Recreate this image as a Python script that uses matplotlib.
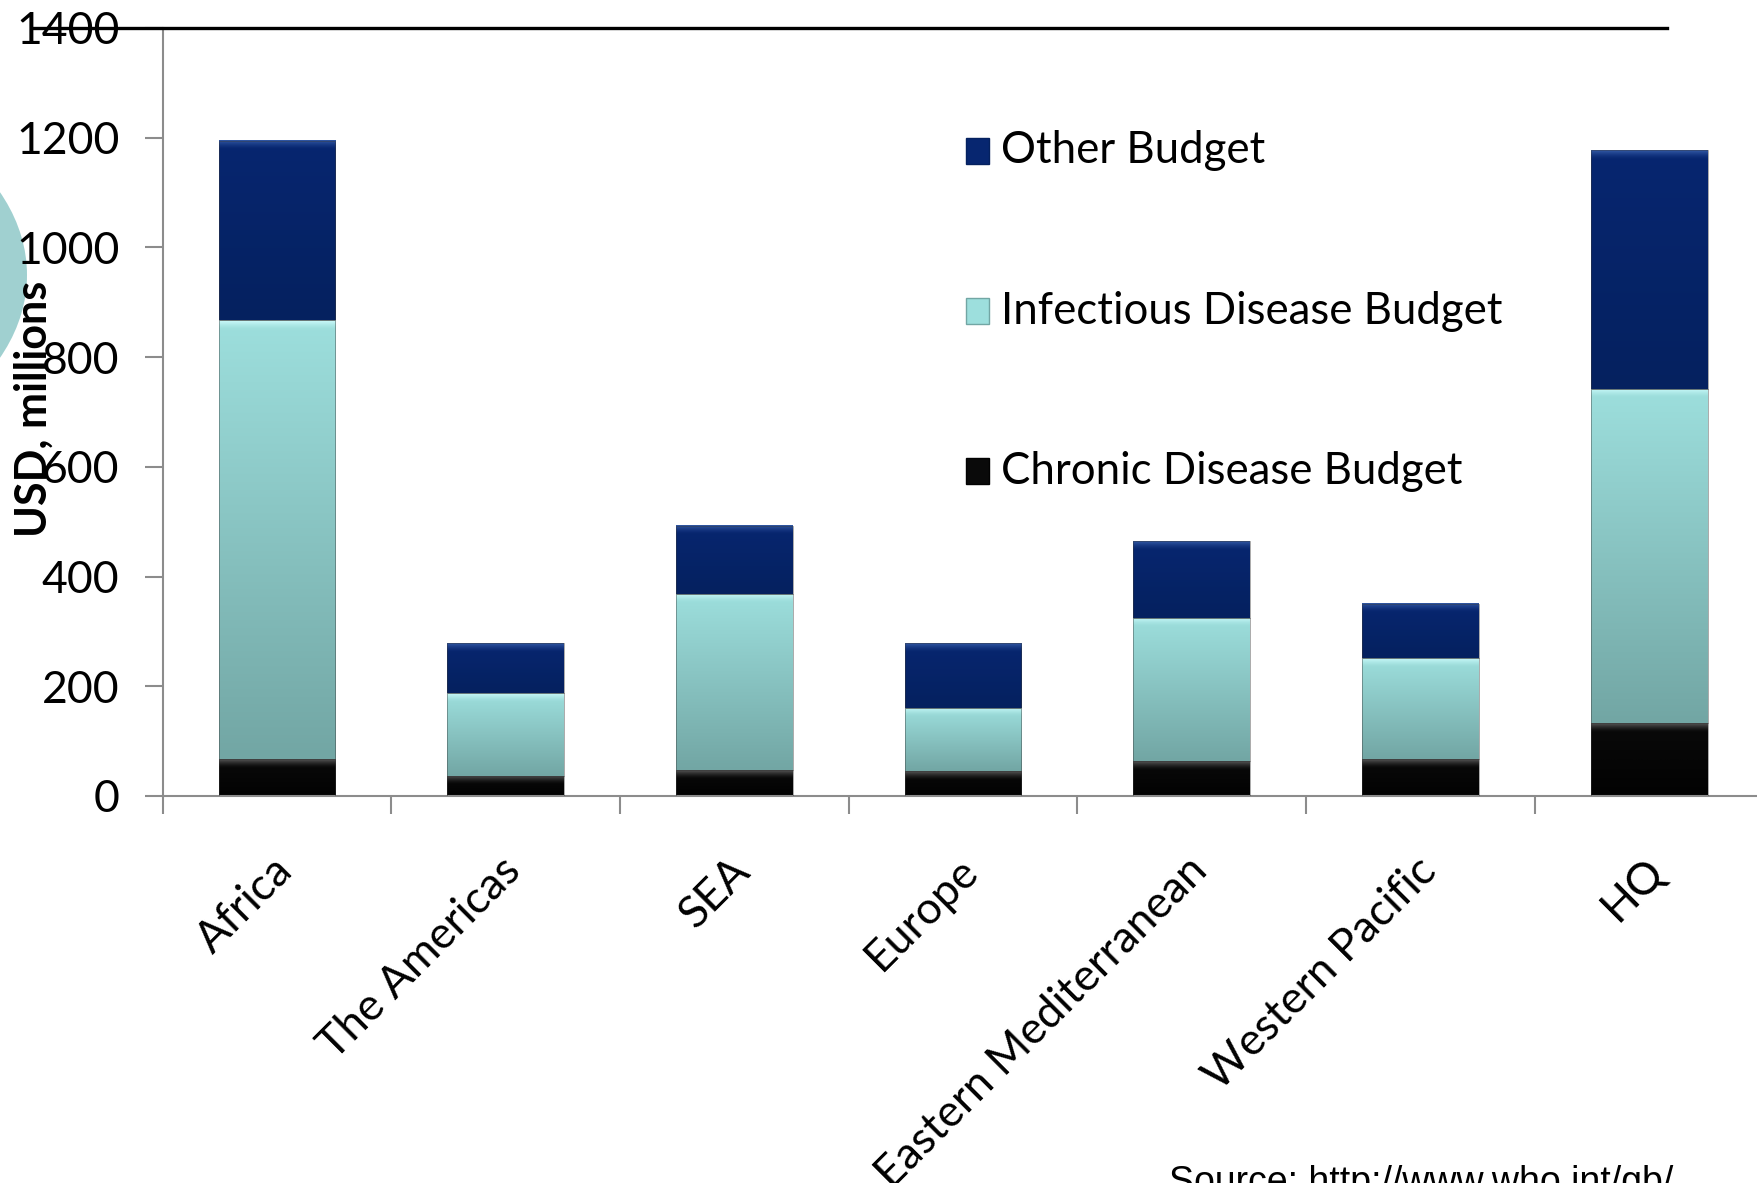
import numpy as np
import matplotlib
matplotlib.use("Agg")
import matplotlib.pyplot as plt
from matplotlib.patches import Rectangle, Circle
from matplotlib.lines import Line2D
from matplotlib.colors import to_rgb

# WHO budget by region, USD millions (stacked: chronic, infectious, other)
regions = ["Africa", "The Americas", "SEA", "Europe",
           "Eastern Mediterranean", "Western Pacific", "HQ"]
chronic = [67, 37, 47, 45, 63, 67, 133]
infectious = [800, 151, 321, 116, 262, 184, 609]
other = [327, 90, 125, 117, 139, 99, 435]
series_names = ["Chronic Disease Budget", "Infectious Disease Budget", "Other Budget"]
yticks = [0, 200, 400, 600, 800, 1000, 1200, 1400]

# (bottom colour, top colour, bevel highlight)
styles = [
    ("#020202", "#0a0a0a", "#6a6a6a"),
    ("#72a6a4", "#9ddfdd", "#d4ffff"),
    ("#05215f", "#072670", "#3c64b0"),
]

plt.rcParams["font.family"] = ["Lato", "DejaVu Sans"]

W, H = 1758, 1183
fig = plt.figure(figsize=(W / 100, H / 100), dpi=100)
ax = fig.add_axes([162.6 / W, (H - 796) / H, (1763.6 - 162.6) / W, (796 - 28) / H])

x = np.arange(len(regions))
width = 0.51
BAND = 16  # bevel height in data units


def shaded_segment(ax, x0, y0, h, style):
    bottom, top, hi = (np.array(to_rgb(c)) for c in style)
    rows = 240
    ys = np.linspace(0, 1, rows)
    img = bottom[None, :] * (1 - ys[:, None]) + top[None, :] * ys[:, None]
    # light bevel along the upper edge
    dist = (1 - ys) * h
    w = np.clip(1 - dist / BAND, 0, 1) ** 1.5
    img = img * (1 - w[:, None] * 0.8) + hi[None, :] * w[:, None] * 0.8
    ax.imshow(img[:, None, :], extent=(x0, x0 + width, y0, y0 + h), origin="lower",
              aspect="auto", interpolation="bilinear", zorder=2)
    ax.add_patch(Rectangle((x0, y0), width, h, fill=False, ec="#3a3a3a",
                           lw=0.6, alpha=0.5, zorder=3))


base = np.zeros(len(regions))
for vals, style in zip([chronic, infectious, other], styles):
    bars = ax.bar(x, vals, width, bottom=base, color="none", zorder=1)
    for b in bars:
        shaded_segment(ax, b.get_x(), b.get_y(), b.get_height(), style)
    base = base + np.array(vals)

ax.set_xlim(-0.5, 6.5)
ax.set_ylim(0, 1400)

for s in ["top", "right"]:
    ax.spines[s].set_visible(False)
for s in ["left", "bottom"]:
    ax.spines[s].set_color("#8c8c8c")
    ax.spines[s].set_linewidth(1.5)

ax.set_yticks(yticks)
ax.tick_params(axis="y", length=13, width=1.5, color="#8c8c8c", labelsize=32, pad=18)
ax.set_xticks(np.arange(-0.5, 6.6, 1.0))
ax.set_xticklabels([])
ax.tick_params(axis="x", length=13, width=1.5, color="#8c8c8c")

for i, name in enumerate(regions):
    ax.text(i - 0.025, -0.07, name, transform=ax.get_xaxis_transform(),
            rotation=45, rotation_mode="anchor", ha="right", va="top",
            fontsize=32)

# legend, top entry first
leg_x, leg_y, step = 0.5017, 0.84, 0.2085
for k, (name, style) in enumerate(zip(series_names[::-1], styles[::-1])):
    yy = leg_y - k * step
    ax.add_patch(Rectangle((leg_x, yy - 0.017), 0.0145, 0.034, transform=ax.transAxes,
                           fc=style[1], ec=style[0], lw=1.0, clip_on=False, zorder=5))
    ax.text(leg_x + 0.022, yy, name, transform=ax.transAxes, fontsize=31.5,
            va="center", ha="left")

fig.text(34 / W, 1 - 409 / H, "USD, millions", rotation=90, fontsize=31,
         fontweight="bold", ha="center", va="center")

# slide decorations: teal circle at the left edge and the rule along the top
fig.add_artist(Circle((-267 / W, 1 - 275 / H), 294 / W, transform=fig.transFigure,
                      fc="#a0d0d0", ec="none", zorder=-1))
fig.add_artist(Line2D([32 / W, 1667 / W], [1 - 28 / H, 1 - 28 / H],
                      transform=fig.transFigure, color="black", lw=2.4))

fig.text(1169 / W, -10 / H, "Source: http://www.who.int/gb/", fontsize=27,
         family="Liberation Sans", ha="left", va="baseline")

fig.savefig("out.png", dpi=100)
